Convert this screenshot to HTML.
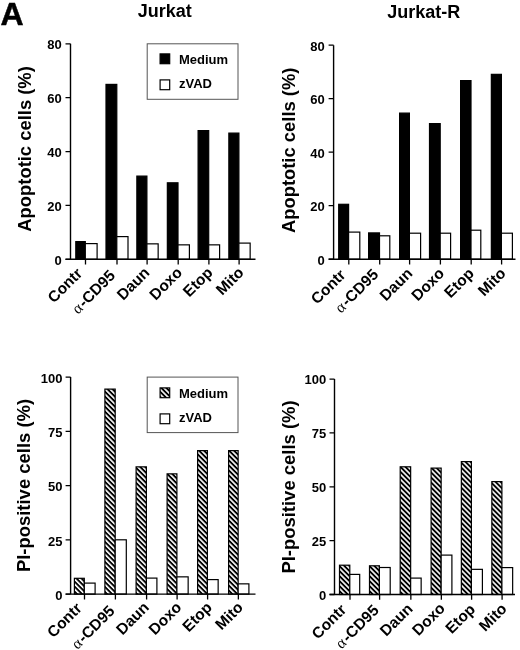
<!DOCTYPE html>
<html><head><meta charset="utf-8"><title>Figure A</title>
<style>
html,body{margin:0;padding:0;background:#fff;}
body{width:520px;height:650px;overflow:hidden;}
svg{display:block;font-family:"Liberation Sans", sans-serif;will-change:transform;filter:blur(0.35px);}
text{fill:#000;}
</style></head>
<body>
<svg width="520" height="650" viewBox="0 0 520 650">
<defs>
<pattern id="hatch" patternUnits="userSpaceOnUse" width="3.54" height="3.54" patternTransform="rotate(45)">
<rect x="0" y="0" width="3.54" height="1.9" fill="#000"/>
</pattern>
</defs>
<rect width="520" height="650" fill="#fff"/>
<rect x="75.80" y="241.60" width="9.50" height="17.70" fill="#000" stroke="#000" stroke-width="1.2"/>
<rect x="85.30" y="243.60" width="11.80" height="15.70" fill="#fff" stroke="#000" stroke-width="1.2"/>
<rect x="106.00" y="84.40" width="10.80" height="174.90" fill="#000" stroke="#000" stroke-width="1.2"/>
<rect x="116.80" y="236.60" width="11.20" height="22.70" fill="#fff" stroke="#000" stroke-width="1.2"/>
<rect x="136.85" y="176.10" width="10.05" height="83.20" fill="#000" stroke="#000" stroke-width="1.2"/>
<rect x="146.90" y="243.85" width="11.25" height="15.45" fill="#fff" stroke="#000" stroke-width="1.2"/>
<rect x="167.35" y="182.80" width="10.65" height="76.50" fill="#000" stroke="#000" stroke-width="1.2"/>
<rect x="178.00" y="244.85" width="11.40" height="14.45" fill="#fff" stroke="#000" stroke-width="1.2"/>
<rect x="198.10" y="130.60" width="10.60" height="128.70" fill="#000" stroke="#000" stroke-width="1.2"/>
<rect x="208.70" y="244.85" width="10.90" height="14.45" fill="#fff" stroke="#000" stroke-width="1.2"/>
<rect x="228.85" y="133.10" width="10.05" height="126.20" fill="#000" stroke="#000" stroke-width="1.2"/>
<rect x="238.90" y="243.10" width="11.25" height="16.20" fill="#fff" stroke="#000" stroke-width="1.2"/>
<path d="M70.50,43.80V259.30M65.50,259.30H255.50" stroke="#000" stroke-width="1.4" fill="none"/>
<path d="M65.50,259.30H70.50M65.50,205.43H70.50M65.50,151.55H70.50M65.50,97.68H70.50M65.50,43.80H70.50M85.50,259.30V264.60M117.00,259.30V264.60M147.10,259.30V264.60M178.20,259.30V264.60M208.90,259.30V264.60M239.10,259.30V264.60" stroke="#000" stroke-width="1.3" fill="none"/>
<text x="61.70" y="264.80" text-anchor="end" font-size="13" font-weight="bold">0</text>
<text x="61.70" y="210.93" text-anchor="end" font-size="13" font-weight="bold">20</text>
<text x="61.70" y="157.05" text-anchor="end" font-size="13" font-weight="bold">40</text>
<text x="61.70" y="103.18" text-anchor="end" font-size="13" font-weight="bold">60</text>
<text x="61.70" y="49.30" text-anchor="end" font-size="13" font-weight="bold">80</text>
<text transform="translate(83.20,274.50) rotate(-45)" text-anchor="end" font-size="15.5" font-weight="bold">Contr</text>
<text transform="translate(116.22,276.50) rotate(-45)" text-anchor="end" font-size="15.5" font-weight="bold"><tspan font-family="Liberation Serif, serif" font-weight="normal" font-size="15.5">α</tspan><tspan dx="1.2">-CD95</tspan></text>
<text transform="translate(150.54,273.50) rotate(-45)" text-anchor="end" font-size="15.5" font-weight="bold">Daun</text>
<text transform="translate(183.16,273.50) rotate(-45)" text-anchor="end" font-size="15.5" font-weight="bold">Doxo</text>
<text transform="translate(213.68,273.50) rotate(-45)" text-anchor="end" font-size="15.5" font-weight="bold">Etop</text>
<text transform="translate(244.80,273.50) rotate(-45)" text-anchor="end" font-size="15.5" font-weight="bold">Mito</text>
<text transform="translate(31.40,231.70) rotate(-90)" font-size="18.4" font-weight="bold">Apoptotic cells (%)</text>
<rect x="338.70" y="204.30" width="9.90" height="54.90" fill="#000" stroke="#000" stroke-width="1.2"/>
<rect x="348.60" y="232.10" width="11.20" height="27.10" fill="#fff" stroke="#000" stroke-width="1.2"/>
<rect x="368.60" y="232.90" width="10.90" height="26.30" fill="#000" stroke="#000" stroke-width="1.2"/>
<rect x="379.50" y="235.80" width="10.30" height="23.40" fill="#fff" stroke="#000" stroke-width="1.2"/>
<rect x="399.60" y="113.10" width="9.80" height="146.10" fill="#000" stroke="#000" stroke-width="1.2"/>
<rect x="409.40" y="233.20" width="11.20" height="26.00" fill="#fff" stroke="#000" stroke-width="1.2"/>
<rect x="429.50" y="123.60" width="10.70" height="135.60" fill="#000" stroke="#000" stroke-width="1.2"/>
<rect x="440.20" y="233.20" width="10.40" height="26.00" fill="#fff" stroke="#000" stroke-width="1.2"/>
<rect x="460.60" y="80.60" width="10.40" height="178.60" fill="#000" stroke="#000" stroke-width="1.2"/>
<rect x="471.00" y="230.20" width="9.80" height="29.00" fill="#fff" stroke="#000" stroke-width="1.2"/>
<rect x="491.35" y="74.35" width="10.05" height="184.85" fill="#000" stroke="#000" stroke-width="1.2"/>
<rect x="501.40" y="233.20" width="11.00" height="26.00" fill="#fff" stroke="#000" stroke-width="1.2"/>
<path d="M333.60,45.15V259.20M328.60,259.20H515.50" stroke="#000" stroke-width="1.4" fill="none"/>
<path d="M328.60,259.20H333.60M328.60,205.69H333.60M328.60,152.18H333.60M328.60,98.66H333.60M328.60,45.15H333.60M348.80,259.20V264.50M379.70,259.20V264.50M409.60,259.20V264.50M440.40,259.20V264.50M471.20,259.20V264.50M501.60,259.20V264.50" stroke="#000" stroke-width="1.3" fill="none"/>
<text x="324.80" y="264.70" text-anchor="end" font-size="13" font-weight="bold">0</text>
<text x="324.80" y="211.19" text-anchor="end" font-size="13" font-weight="bold">20</text>
<text x="324.80" y="157.68" text-anchor="end" font-size="13" font-weight="bold">40</text>
<text x="324.80" y="104.16" text-anchor="end" font-size="13" font-weight="bold">60</text>
<text x="324.80" y="50.65" text-anchor="end" font-size="13" font-weight="bold">80</text>
<text transform="translate(346.50,275.90) rotate(-45)" text-anchor="end" font-size="15.5" font-weight="bold">Contr</text>
<text transform="translate(379.26,275.40) rotate(-45)" text-anchor="end" font-size="15.5" font-weight="bold"><tspan font-family="Liberation Serif, serif" font-weight="normal" font-size="15.5">α</tspan><tspan dx="1.2">-CD95</tspan></text>
<text transform="translate(413.32,274.40) rotate(-45)" text-anchor="end" font-size="15.5" font-weight="bold">Daun</text>
<text transform="translate(445.18,274.40) rotate(-45)" text-anchor="end" font-size="15.5" font-weight="bold">Doxo</text>
<text transform="translate(474.94,274.40) rotate(-45)" text-anchor="end" font-size="15.5" font-weight="bold">Etop</text>
<text transform="translate(506.80,274.40) rotate(-45)" text-anchor="end" font-size="15.5" font-weight="bold">Mito</text>
<text transform="translate(295.30,233.10) rotate(-90)" font-size="18.4" font-weight="bold">Apoptotic cells (%)</text>
<rect x="74.40" y="578.30" width="9.90" height="15.80" fill="url(#hatch)" stroke="#000" stroke-width="1.2"/>
<rect x="84.30" y="583.10" width="10.80" height="11.00" fill="#fff" stroke="#000" stroke-width="1.2"/>
<rect x="104.90" y="389.10" width="10.30" height="205.00" fill="url(#hatch)" stroke="#000" stroke-width="1.2"/>
<rect x="115.20" y="539.80" width="11.10" height="54.30" fill="#fff" stroke="#000" stroke-width="1.2"/>
<rect x="136.10" y="466.85" width="10.30" height="127.25" fill="url(#hatch)" stroke="#000" stroke-width="1.2"/>
<rect x="146.40" y="578.10" width="10.50" height="16.00" fill="#fff" stroke="#000" stroke-width="1.2"/>
<rect x="167.10" y="473.85" width="9.80" height="120.25" fill="url(#hatch)" stroke="#000" stroke-width="1.2"/>
<rect x="176.90" y="576.85" width="11.25" height="17.25" fill="#fff" stroke="#000" stroke-width="1.2"/>
<rect x="197.60" y="450.60" width="9.80" height="143.50" fill="url(#hatch)" stroke="#000" stroke-width="1.2"/>
<rect x="207.40" y="579.60" width="10.75" height="14.50" fill="#fff" stroke="#000" stroke-width="1.2"/>
<rect x="228.60" y="450.60" width="9.55" height="143.50" fill="url(#hatch)" stroke="#000" stroke-width="1.2"/>
<rect x="238.15" y="583.85" width="10.75" height="10.25" fill="#fff" stroke="#000" stroke-width="1.2"/>
<path d="M70.60,377.10V594.10M65.60,594.10H255.50" stroke="#000" stroke-width="1.4" fill="none"/>
<path d="M65.60,594.10H70.60M65.60,539.85H70.60M65.60,485.60H70.60M65.60,431.35H70.60M65.60,377.10H70.60M84.50,594.10V599.40M115.40,594.10V599.40M146.60,594.10V599.40M177.10,594.10V599.40M207.60,594.10V599.40M238.35,594.10V599.40" stroke="#000" stroke-width="1.3" fill="none"/>
<text x="62.40" y="599.90" text-anchor="end" font-size="13" font-weight="bold">0</text>
<text x="62.40" y="545.65" text-anchor="end" font-size="13" font-weight="bold">25</text>
<text x="62.40" y="491.40" text-anchor="end" font-size="13" font-weight="bold">50</text>
<text x="62.40" y="437.15" text-anchor="end" font-size="13" font-weight="bold">75</text>
<text x="62.40" y="382.90" text-anchor="end" font-size="13" font-weight="bold">100</text>
<text transform="translate(82.70,609.30) rotate(-45)" text-anchor="end" font-size="15.5" font-weight="bold">Contr</text>
<text transform="translate(115.67,611.80) rotate(-45)" text-anchor="end" font-size="15.5" font-weight="bold"><tspan font-family="Liberation Serif, serif" font-weight="normal" font-size="15.5">α</tspan><tspan dx="1.2">-CD95</tspan></text>
<text transform="translate(149.94,608.30) rotate(-45)" text-anchor="end" font-size="15.5" font-weight="bold">Daun</text>
<text transform="translate(182.51,608.30) rotate(-45)" text-anchor="end" font-size="15.5" font-weight="bold">Doxo</text>
<text transform="translate(212.98,608.30) rotate(-45)" text-anchor="end" font-size="15.5" font-weight="bold">Etop</text>
<text transform="translate(244.05,608.30) rotate(-45)" text-anchor="end" font-size="15.5" font-weight="bold">Mito</text>
<text transform="translate(30.40,572.10) rotate(-90)" font-size="18.45" font-weight="bold">PI-positive cells (%)</text>
<rect x="339.50" y="565.20" width="10.30" height="29.30" fill="url(#hatch)" stroke="#000" stroke-width="1.2"/>
<rect x="349.80" y="574.40" width="9.90" height="20.10" fill="#fff" stroke="#000" stroke-width="1.2"/>
<rect x="369.50" y="565.80" width="9.90" height="28.70" fill="url(#hatch)" stroke="#000" stroke-width="1.2"/>
<rect x="379.40" y="567.50" width="10.80" height="27.00" fill="#fff" stroke="#000" stroke-width="1.2"/>
<rect x="400.20" y="466.80" width="10.45" height="127.70" fill="url(#hatch)" stroke="#000" stroke-width="1.2"/>
<rect x="410.65" y="578.10" width="10.50" height="16.40" fill="#fff" stroke="#000" stroke-width="1.2"/>
<rect x="431.10" y="468.10" width="10.05" height="126.40" fill="url(#hatch)" stroke="#000" stroke-width="1.2"/>
<rect x="441.15" y="555.10" width="10.75" height="39.40" fill="#fff" stroke="#000" stroke-width="1.2"/>
<rect x="461.35" y="461.60" width="10.05" height="132.90" fill="url(#hatch)" stroke="#000" stroke-width="1.2"/>
<rect x="471.40" y="569.35" width="11.00" height="25.15" fill="#fff" stroke="#000" stroke-width="1.2"/>
<rect x="491.85" y="481.60" width="10.05" height="112.90" fill="url(#hatch)" stroke="#000" stroke-width="1.2"/>
<rect x="501.90" y="567.60" width="10.75" height="26.90" fill="#fff" stroke="#000" stroke-width="1.2"/>
<path d="M334.50,379.10V594.50M329.50,594.50H515.00" stroke="#000" stroke-width="1.4" fill="none"/>
<path d="M329.50,594.50H334.50M329.50,540.65H334.50M329.50,486.80H334.50M329.50,432.95H334.50M329.50,379.10H334.50M350.00,594.50V599.80M379.60,594.50V599.80M410.85,594.50V599.80M441.35,594.50V599.80M471.60,594.50V599.80M502.10,594.50V599.80" stroke="#000" stroke-width="1.3" fill="none"/>
<text x="326.20" y="599.50" text-anchor="end" font-size="13" font-weight="bold">0</text>
<text x="326.20" y="545.65" text-anchor="end" font-size="13" font-weight="bold">25</text>
<text x="326.20" y="491.80" text-anchor="end" font-size="13" font-weight="bold">50</text>
<text x="326.20" y="437.95" text-anchor="end" font-size="13" font-weight="bold">75</text>
<text x="326.20" y="384.10" text-anchor="end" font-size="13" font-weight="bold">100</text>
<text transform="translate(347.20,610.70) rotate(-45)" text-anchor="end" font-size="15.5" font-weight="bold">Contr</text>
<text transform="translate(379.82,611.20) rotate(-45)" text-anchor="end" font-size="15.5" font-weight="bold"><tspan font-family="Liberation Serif, serif" font-weight="normal" font-size="15.5">α</tspan><tspan dx="1.2">-CD95</tspan></text>
<text transform="translate(413.74,609.70) rotate(-45)" text-anchor="end" font-size="15.5" font-weight="bold">Daun</text>
<text transform="translate(445.96,609.20) rotate(-45)" text-anchor="end" font-size="15.5" font-weight="bold">Doxo</text>
<text transform="translate(476.08,610.20) rotate(-45)" text-anchor="end" font-size="15.5" font-weight="bold">Etop</text>
<text transform="translate(507.80,609.70) rotate(-45)" text-anchor="end" font-size="15.5" font-weight="bold">Mito</text>
<text transform="translate(295.30,573.60) rotate(-90)" font-size="18.45" font-weight="bold">PI-positive cells (%)</text>
<rect x="147.2" y="43.80" width="90.8" height="55.5" fill="none" stroke="#555" stroke-width="1"/>
<rect x="160.10" y="53.90" width="9.6" height="9.8" fill="#000" stroke="#000" stroke-width="1.2"/>
<text x="179" y="64.00" font-size="13" font-weight="bold">Medium</text>
<rect x="160.10" y="79.90" width="9.6" height="9.8" fill="#fff" stroke="#000" stroke-width="1.2"/>
<text x="179" y="87.90" font-size="13" font-weight="bold">zVAD</text>
<rect x="147.2" y="377.10" width="90.8" height="55.5" fill="none" stroke="#555" stroke-width="1"/>
<rect x="160.10" y="387.90" width="9.6" height="9.8" fill="url(#hatch)" stroke="#000" stroke-width="1.2"/>
<text x="179" y="398.00" font-size="13" font-weight="bold">Medium</text>
<rect x="160.10" y="413.90" width="9.6" height="9.8" fill="#fff" stroke="#000" stroke-width="1.2"/>
<text x="179" y="421.90" font-size="13" font-weight="bold">zVAD</text>
<text x="137.7" y="17.4" font-size="18" font-weight="bold">Jurkat</text>
<text x="387.3" y="17.8" font-size="18" font-weight="bold">Jurkat-R</text>
<text x="0.5" y="24.5" font-size="32" font-weight="bold" stroke="#000" stroke-width="0.5">A</text>
</svg>
</body></html>
